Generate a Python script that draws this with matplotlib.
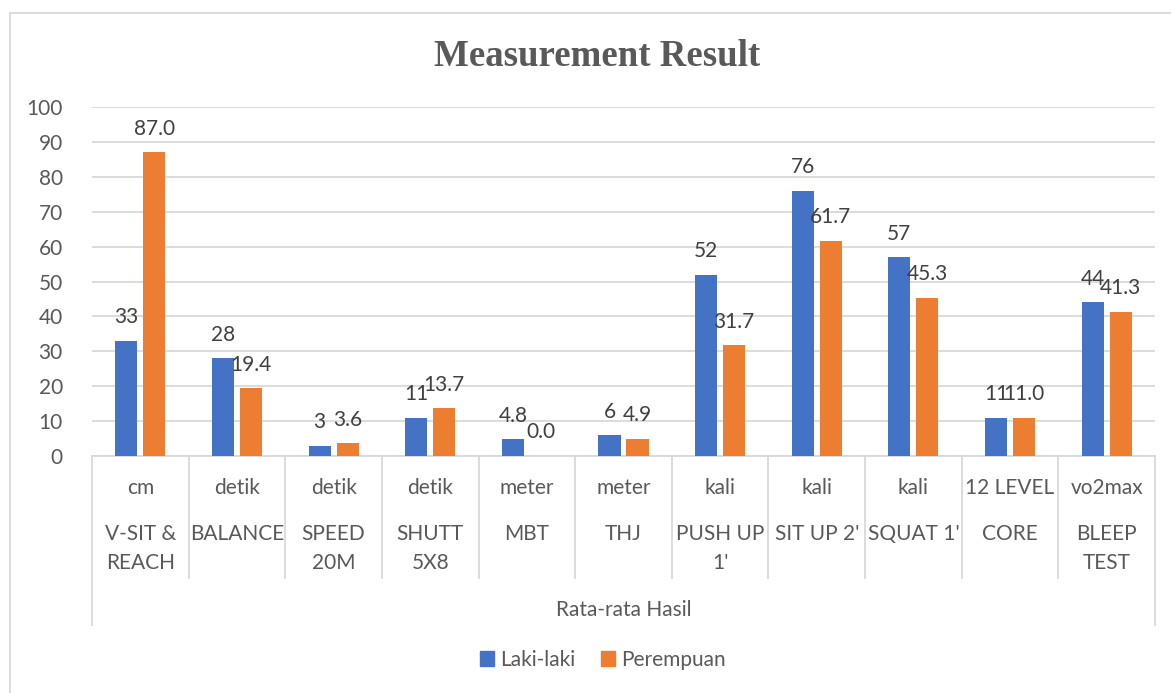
import matplotlib.pyplot as plt
import matplotlib.transforms as mtransforms
from matplotlib.lines import Line2D
from matplotlib.patches import Patch
import numpy as np

plt.rcParams['font.family'] = ['Lato', 'DejaVu Sans']

tests = ["V-SIT &\nREACH", "BALANCE", "SPEED\n20M", "SHUTT\n5X8", "MBT", "THJ",
         "PUSH UP\n1'", "SIT UP 2'", "SQUAT 1'", "CORE", "BLEEP\nTEST"]
units = ["cm", "detik", "detik", "detik", "meter", "meter", "kali", "kali", "kali",
         "12 LEVEL", "vo2max"]
laki = [33, 28, 3, 11, 4.8, 6, 52, 76, 57, 11, 44]
laki_text = ["33", "28", "3", "11", "4.8", "6", "52", "76", "57", "11", "44"]
perempuan = [87.0, 19.4, 3.6, 13.7, 0.0, 4.9, 31.7, 61.7, 45.3, 11.0, 41.3]
group_label = "Rata-rata Hasil"
series_names = ["Laki-laki", "Perempuan"]

W, H = 1171, 693
blue, orange = "#4472C4", "#ED7D31"
grid_c = "#D9D9D9"
txt_c = "#595959"
lab_c = "#404040"

fig = plt.figure(figsize=(W / 100, H / 100), dpi=100)
# plot area in pixels: x 92..1155, y 107..456
ax = fig.add_axes([92 / W, 1 - 456 / H, (1155 - 92) / W, (456 - 107) / H])

x = np.arange(len(tests))
bw = 0.228
off = 0.145
ax.bar(x - off, laki, bw, color=blue, zorder=3)
ax.bar(x + off, perempuan, bw, color=orange, zorder=3)

for xi, v, s in zip(x, laki, laki_text):
    ax.annotate(s, (xi - off, v), xytext=(0, 12.6), textcoords="offset points",
                ha="center", va="baseline", fontsize=15, color=lab_c)
for xi, v in zip(x, perempuan):
    ax.annotate(f"{v:.1f}", (xi + off, v), xytext=(0, 12.6), textcoords="offset points",
                ha="center", va="baseline", fontsize=15, color=lab_c)

ax.set_xlim(-0.5, len(tests) - 0.5)
ax.set_ylim(0, 100)
ax.set_yticks(np.arange(0, 101, 10))
ax.yaxis.grid(True, color=grid_c, linewidth=1.3, zorder=0)
ax.set_axisbelow(True)
ax.tick_params(axis="y", length=0, pad=21, labelsize=15, labelcolor=txt_c)
ax.set_xticks([])
for sp in ["top", "right", "left"]:
    ax.spines[sp].set_visible(False)
ax.spines["bottom"].set_color(grid_c)
ax.spines["bottom"].set_linewidth(1.3)

# multi-level category axis
bt = mtransforms.blended_transform_factory(ax.transData, fig.transFigure)
def fy(p):
    return 1 - p / H

for i in range(len(tests) + 1):
    bottom = 625 if i in (0, len(tests)) else 578
    ax.add_line(Line2D([i - 0.5, i - 0.5], [fy(456), fy(bottom)], transform=bt,
                       color=grid_c, linewidth=1.3, clip_on=False))
for xi, u, t in zip(x, units, tests):
    ax.text(xi, fy(488), u, transform=bt, ha="center", va="center",
            fontsize=15, color=txt_c)
    for k, line in enumerate(t.split("\n")):
        ax.text(xi, fy(534 + 29 * k), line, transform=bt, ha="center", va="center",
                fontsize=15, color=txt_c)
ax.text((len(tests) - 1) / 2, fy(610), group_label, transform=bt, ha="center",
        va="center", fontsize=15, color=txt_c)

fig.text(597 / W, fy(66.5), "Measurement Result", ha="center", va="baseline",
         fontsize=26.6, fontweight="bold", color=txt_c, family="Liberation Serif")

handles = [Patch(color=blue, label=series_names[0]),
           Patch(color=orange, label=series_names[1])]
fig.legend(handles=handles, loc="center", bbox_to_anchor=(603 / W, fy(660)),
           ncol=2, frameon=False, fontsize=15, handlelength=0.7, handleheight=0.7,
           handletextpad=0.3, columnspacing=1.2, labelcolor=txt_c)

# chart border
fig.add_artist(Line2D([10 / W, 10 / W], [0, fy(13)], transform=fig.transFigure,
                      color=grid_c, linewidth=1.3))
fig.add_artist(Line2D([10 / W, 1], [fy(13), fy(13)], transform=fig.transFigure,
                      color=grid_c, linewidth=1.3))

fig.savefig("out.png", dpi=100)
